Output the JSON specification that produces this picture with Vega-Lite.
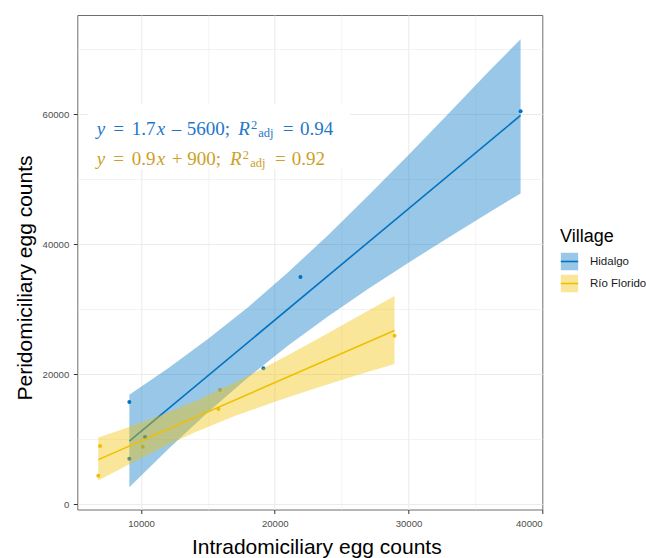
{
  "$schema": "https://vega.github.io/schema/vega-lite/v6.json",
  "width": 465,
  "height": 494.5,
  "autosize": {"type": "none"},
  "padding": {"left": 77.3, "top": 15, "right": 103.7, "bottom": 48.5},
  "background": "white",
  "config": {
    "view": {"stroke": "#6E6E6E", "strokeWidth": 1}
  },
  "datasets": {
    "points": [
      {"Village": "Hidalgo", "intra": 9122, "peri": 15740},
      {"Village": "Hidalgo", "intra": 9122, "peri": 7020},
      {"Village": "Hidalgo", "intra": 10297, "peri": 10357},
      {"Village": "Hidalgo", "intra": 19151, "peri": 20926},
      {"Village": "Hidalgo", "intra": 21920, "peri": 34972},
      {"Village": "Hidalgo", "intra": 38386, "peri": 60465},
      {"Village": "Río Florido", "intra": 6802, "peri": 4403},
      {"Village": "Río Florido", "intra": 6929, "peri": 8972},
      {"Village": "Río Florido", "intra": 10125, "peri": 8865},
      {"Village": "Río Florido", "intra": 15783, "peri": 14665},
      {"Village": "Río Florido", "intra": 15910, "peri": 17588},
      {"Village": "Río Florido", "intra": 28956, "peri": 25942}
    ],
    "ribbon": [
      {"Village": "Hidalgo", "intra": 9122, "lo": 2630, "hi": 16850},
      {"Village": "Hidalgo", "intra": 12000, "lo": 8414, "hi": 20898},
      {"Village": "Hidalgo", "intra": 15000, "lo": 14161, "hi": 25417},
      {"Village": "Hidalgo", "intra": 18000, "lo": 19513, "hi": 30333},
      {"Village": "Hidalgo", "intra": 21000, "lo": 24420, "hi": 35692},
      {"Village": "Hidalgo", "intra": 24000, "lo": 28931, "hi": 41447},
      {"Village": "Hidalgo", "intra": 27000, "lo": 33148, "hi": 47498},
      {"Village": "Hidalgo", "intra": 30000, "lo": 37168, "hi": 53744},
      {"Village": "Hidalgo", "intra": 33000, "lo": 41060, "hi": 60118},
      {"Village": "Hidalgo", "intra": 36000, "lo": 44870, "hi": 66576},
      {"Village": "Hidalgo", "intra": 38386, "lo": 47830, "hi": 71550},
      {"Village": "Río Florido", "intra": 6802, "lo": 3657, "hi": 10283},
      {"Village": "Río Florido", "intra": 9000, "lo": 6057, "hi": 11817},
      {"Village": "Río Florido", "intra": 12000, "lo": 9154, "hi": 14116},
      {"Village": "Río Florido", "intra": 14080, "lo": 11112, "hi": 15898},
      {"Village": "Río Florido", "intra": 17000, "lo": 13567, "hi": 18695},
      {"Village": "Río Florido", "intra": 20000, "lo": 15794, "hi": 21864},
      {"Village": "Río Florido", "intra": 23000, "lo": 17834, "hi": 25220},
      {"Village": "Río Florido", "intra": 26000, "lo": 19769, "hi": 28681},
      {"Village": "Río Florido", "intra": 28956, "lo": 21590, "hi": 32050}
    ]
  },
  "layer": [
    {
      "data": {"name": "points"},
      "mark": {"type": "point", "filled": true, "size": 16, "opacity": 1},
      "encoding": {
        "x": {
          "field": "intra", "type": "quantitative", "title": "Intradomiciliary egg counts",
          "scale": {"domain": [5230, 40010], "nice": false, "zero": false},
          "axis": {
            "values": [10000, 15000, 20000, 25000, 30000, 35000, 40000],
            "format": "d",
            "labelExpr": "datum.value % 10000 === 0 ? datum.label : ''",
            "domain": false,
            "grid": true,
            "gridColor": "#EBEBEB",
            "gridWidth": {"condition": {"test": "datum.value % 10000 === 0", "value": 1.1}, "value": 0.6},
            "gridOpacity": {"condition": {"test": "datum.value >= 40000", "value": 0}, "value": 1},
            "tickColor": {"condition": {"test": "datum.value % 10000 === 0", "value": "#333333"}, "value": "transparent"},
            "tickSize": 4,
            "labelPadding": 5,
            "labelFont": "Liberation Sans",
            "labelFontSize": 9.6,
            "labelColor": "#4D4D4D",
            "titleFont": "Liberation Sans",
            "titleFontSize": 21,
            "titleFontWeight": "normal",
            "titleColor": "black",
            "titleX": 239,
            "titleY": 43.8,
            "titleAlign": "center",
            "titleBaseline": "alphabetic"
          }
        },
        "y": {
          "field": "peri", "type": "quantitative", "title": "Peridomiciliary egg counts",
          "scale": {"domain": [-800, 75280], "nice": false, "zero": false},
          "axis": {
            "values": [0, 10000, 20000, 30000, 40000, 50000, 60000, 70000],
            "format": "d",
            "labelExpr": "datum.value % 20000 === 0 ? datum.label : ''",
            "domain": false,
            "grid": true,
            "gridColor": "#EBEBEB",
            "gridWidth": {"condition": {"test": "datum.value % 20000 === 0", "value": 1.1}, "value": 0.6},
            "tickColor": {"condition": {"test": "datum.value % 20000 === 0", "value": "#333333"}, "value": "transparent"},
            "tickSize": 4,
            "labelPadding": 4.5,
            "labelFont": "Liberation Sans",
            "labelFontSize": 9.6,
            "labelColor": "#4D4D4D",
            "titleFont": "Liberation Sans",
            "titleFontSize": 21,
            "titleFontWeight": "normal",
            "titleColor": "black",
            "titleAngle": 270,
            "titleX": -46,
            "titleY": 262.5,
            "titleAlign": "center",
            "titleBaseline": "alphabetic"
          }
        },
        "fill": {
          "field": "Village", "type": "nominal", "title": "Village",
          "scale": {"domain": ["Hidalgo", "Río Florido"], "range": ["#0073C2", "#EFC000"]},
          "legend": {
            "orient": "none", "legendX": 482.7, "legendY": 213,
            "titleFont": "Liberation Sans", "titleFontSize": 18, "titleFontWeight": "normal", "titleColor": "black", "titlePadding": 6,
            "labelFont": "Liberation Sans", "labelFontSize": 11.5, "labelColor": "#1A1A1A", "labelOffset": 11,
            "symbolType": "M-1,0H1V-1H-1V1H1V0", "symbolSize": 300, "symbolStrokeWidth": 1.6, "symbolDash": [17.3, 1000],
            "rowPadding": -8, "symbolOpacity": 1,
            "encode": {"symbols": {"update": {
              "fill": {"scale": "fill", "field": "value"},
              "stroke": {"scale": "stroke", "field": "value"},
              "fillOpacity": {"value": 0.4},
              "strokeOpacity": {"value": 1}
            }}}
          }
        }
      }
    },
    {
      "data": {"name": "ribbon"},
      "transform": [{"filter": "datum.Village === 'Hidalgo'"}],
      "mark": {"type": "area", "fillOpacity": 0.4},
      "encoding": {
        "x": {"field": "intra", "type": "quantitative", "title": "Intradomiciliary egg counts"},
        "y": {"field": "lo", "type": "quantitative", "title": "Peridomiciliary egg counts"},
        "y2": {"field": "hi"},
        "fill": {"field": "Village", "type": "nominal", "title": "Village"}
      }
    },
    {
      "data": {"name": "points"},
      "transform": [{"filter": "datum.Village === 'Hidalgo'"}, {"regression": "peri", "on": "intra", "groupby": ["Village"]}],
      "mark": {"type": "line", "strokeWidth": 1.6},
      "encoding": {
        "x": {"field": "intra", "type": "quantitative", "title": "Intradomiciliary egg counts"},
        "y": {"field": "peri", "type": "quantitative", "title": "Peridomiciliary egg counts"},
        "stroke": {
          "field": "Village", "type": "nominal", "title": "Village",
          "scale": {"domain": ["Hidalgo", "Río Florido"], "range": ["#0073C2", "#EFC000"]},
          "legend": {
            "orient": "none", "legendX": 482.7, "legendY": 213,
            "titleFont": "Liberation Sans", "titleFontSize": 18, "titleFontWeight": "normal", "titleColor": "black", "titlePadding": 6,
            "labelFont": "Liberation Sans", "labelFontSize": 11.5, "labelColor": "#1A1A1A", "labelOffset": 11,
            "symbolType": "M-1,0H1V-1H-1V1H1V0", "symbolSize": 300, "symbolStrokeWidth": 1.6, "symbolDash": [17.3, 1000],
            "rowPadding": -8, "symbolOpacity": 1
          }
        }
      }
    },
    {
      "data": {"name": "ribbon"},
      "transform": [{"filter": "datum.Village === 'Río Florido'"}],
      "mark": {"type": "area", "fillOpacity": 0.4},
      "encoding": {
        "x": {"field": "intra", "type": "quantitative", "title": "Intradomiciliary egg counts"},
        "y": {"field": "lo", "type": "quantitative", "title": "Peridomiciliary egg counts"},
        "y2": {"field": "hi"},
        "fill": {"field": "Village", "type": "nominal", "title": "Village"}
      }
    },
    {
      "data": {"name": "points"},
      "transform": [{"filter": "datum.Village === 'Río Florido'"}, {"regression": "peri", "on": "intra", "groupby": ["Village"]}],
      "mark": {"type": "line", "strokeWidth": 1.6},
      "encoding": {
        "x": {"field": "intra", "type": "quantitative", "title": "Intradomiciliary egg counts"},
        "y": {"field": "peri", "type": "quantitative", "title": "Peridomiciliary egg counts"},
        "stroke": {"field": "Village", "type": "nominal", "title": "Village"}
      }
    },
    {
      "data": {"values": [{}]},
      "mark": {"type": "rect", "fill": "white"},
      "encoding": {"x": {"datum": 6031}, "x2": {"datum": 25640}, "y": {"datum": 61588}, "y2": {"datum": 51588}}
    },
    {"data": {"values": [{}]}, "mark": {"type": "text", "text": "y", "font": "Liberation Serif", "fontSize": 19, "fontStyle": "italic", "align": "left", "baseline": "alphabetic", "dx": 0, "fill": "#1E78C8"}, "encoding": {"x": {"datum": 6682}, "y": {"datum": 56818}}},
    {"data": {"values": [{}]}, "mark": {"type": "text", "text": "=", "font": "Liberation Serif", "fontSize": 19, "align": "left", "baseline": "alphabetic", "dx": 16.6, "fill": "#1E78C8"}, "encoding": {"x": {"datum": 6682}, "y": {"datum": 56818}}},
    {"data": {"values": [{}]}, "mark": {"type": "text", "text": "1.7", "font": "Liberation Serif", "fontSize": 19, "align": "left", "baseline": "alphabetic", "dx": 35, "fill": "#1E78C8"}, "encoding": {"x": {"datum": 6682}, "y": {"datum": 56818}}},
    {"data": {"values": [{}]}, "mark": {"type": "text", "text": "x", "font": "Liberation Serif", "fontSize": 19, "fontStyle": "italic", "align": "left", "baseline": "alphabetic", "dx": 60, "fill": "#1E78C8"}, "encoding": {"x": {"datum": 6682}, "y": {"datum": 56818}}},
    {"data": {"values": [{}]}, "mark": {"type": "text", "text": "–", "font": "Liberation Serif", "fontSize": 19, "align": "left", "baseline": "alphabetic", "dx": 75, "fill": "#1E78C8"}, "encoding": {"x": {"datum": 6682}, "y": {"datum": 56818}}},
    {"data": {"values": [{}]}, "mark": {"type": "text", "text": "5600;", "font": "Liberation Serif", "fontSize": 19, "align": "left", "baseline": "alphabetic", "dx": 90, "fill": "#1E78C8"}, "encoding": {"x": {"datum": 6682}, "y": {"datum": 56818}}},
    {"data": {"values": [{}]}, "mark": {"type": "text", "text": "R", "font": "Liberation Serif", "fontSize": 19, "fontStyle": "italic", "align": "left", "baseline": "alphabetic", "dx": 141.6, "fill": "#1E78C8"}, "encoding": {"x": {"datum": 6682}, "y": {"datum": 56818}}},
    {"data": {"values": [{}]}, "mark": {"type": "text", "text": "2", "font": "Liberation Serif", "fontSize": 12.5, "align": "left", "baseline": "alphabetic", "dx": 154.4, "dy": -6, "fill": "#1E78C8"}, "encoding": {"x": {"datum": 6682}, "y": {"datum": 56818}}},
    {"data": {"values": [{}]}, "mark": {"type": "text", "text": "adj", "font": "Liberation Serif", "fontSize": 12.5, "align": "left", "baseline": "alphabetic", "dx": 161.6, "dy": 2, "fill": "#1E78C8"}, "encoding": {"x": {"datum": 6682}, "y": {"datum": 56818}}},
    {"data": {"values": [{}]}, "mark": {"type": "text", "text": "=", "font": "Liberation Serif", "fontSize": 19, "align": "left", "baseline": "alphabetic", "dx": 186, "fill": "#1E78C8"}, "encoding": {"x": {"datum": 6682}, "y": {"datum": 56818}}},
    {"data": {"values": [{}]}, "mark": {"type": "text", "text": "0.94", "font": "Liberation Serif", "fontSize": 19, "align": "left", "baseline": "alphabetic", "dx": 203.3, "fill": "#1E78C8"}, "encoding": {"x": {"datum": 6682}, "y": {"datum": 56818}}},
    {"data": {"values": [{}]}, "mark": {"type": "text", "text": "y", "font": "Liberation Serif", "fontSize": 19, "fontStyle": "italic", "align": "left", "baseline": "alphabetic", "dx": 0, "fill": "#CDA028"}, "encoding": {"x": {"datum": 6682}, "y": {"datum": 52203}}},
    {"data": {"values": [{}]}, "mark": {"type": "text", "text": "=", "font": "Liberation Serif", "fontSize": 19, "align": "left", "baseline": "alphabetic", "dx": 16.6, "fill": "#CDA028"}, "encoding": {"x": {"datum": 6682}, "y": {"datum": 52203}}},
    {"data": {"values": [{}]}, "mark": {"type": "text", "text": "0.9", "font": "Liberation Serif", "fontSize": 19, "align": "left", "baseline": "alphabetic", "dx": 35, "fill": "#CDA028"}, "encoding": {"x": {"datum": 6682}, "y": {"datum": 52203}}},
    {"data": {"values": [{}]}, "mark": {"type": "text", "text": "x", "font": "Liberation Serif", "fontSize": 19, "fontStyle": "italic", "align": "left", "baseline": "alphabetic", "dx": 60, "fill": "#CDA028"}, "encoding": {"x": {"datum": 6682}, "y": {"datum": 52203}}},
    {"data": {"values": [{}]}, "mark": {"type": "text", "text": "+", "font": "Liberation Serif", "fontSize": 19, "align": "left", "baseline": "alphabetic", "dx": 75, "fill": "#CDA028"}, "encoding": {"x": {"datum": 6682}, "y": {"datum": 52203}}},
    {"data": {"values": [{}]}, "mark": {"type": "text", "text": "900;", "font": "Liberation Serif", "fontSize": 19, "align": "left", "baseline": "alphabetic", "dx": 90.5, "fill": "#CDA028"}, "encoding": {"x": {"datum": 6682}, "y": {"datum": 52203}}},
    {"data": {"values": [{}]}, "mark": {"type": "text", "text": "R", "font": "Liberation Serif", "fontSize": 19, "fontStyle": "italic", "align": "left", "baseline": "alphabetic", "dx": 133.3, "fill": "#CDA028"}, "encoding": {"x": {"datum": 6682}, "y": {"datum": 52203}}},
    {"data": {"values": [{}]}, "mark": {"type": "text", "text": "2", "font": "Liberation Serif", "fontSize": 12.5, "align": "left", "baseline": "alphabetic", "dx": 146.1, "dy": -6, "fill": "#CDA028"}, "encoding": {"x": {"datum": 6682}, "y": {"datum": 52203}}},
    {"data": {"values": [{}]}, "mark": {"type": "text", "text": "adj", "font": "Liberation Serif", "fontSize": 12.5, "align": "left", "baseline": "alphabetic", "dx": 153.5, "dy": 2, "fill": "#CDA028"}, "encoding": {"x": {"datum": 6682}, "y": {"datum": 52203}}},
    {"data": {"values": [{}]}, "mark": {"type": "text", "text": "=", "font": "Liberation Serif", "fontSize": 19, "align": "left", "baseline": "alphabetic", "dx": 178.3, "fill": "#CDA028"}, "encoding": {"x": {"datum": 6682}, "y": {"datum": 52203}}},
    {"data": {"values": [{}]}, "mark": {"type": "text", "text": "0.92", "font": "Liberation Serif", "fontSize": 19, "align": "left", "baseline": "alphabetic", "dx": 195, "fill": "#CDA028"}, "encoding": {"x": {"datum": 6682}, "y": {"datum": 52203}}}
  ]
}
